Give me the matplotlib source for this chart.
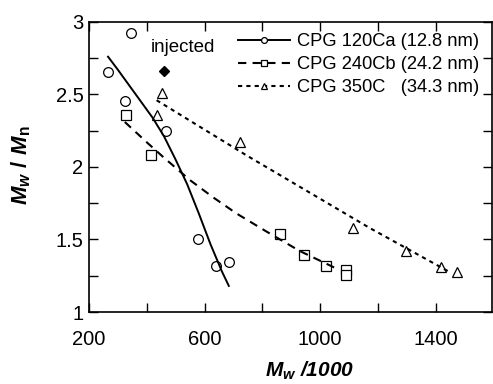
import matplotlib
matplotlib.use("Agg")
import matplotlib.pyplot as plt
from matplotlib.ticker import FixedLocator, MultipleLocator, FormatStrFormatter

plt.rcParams['font.family'] = ['Liberation Sans', 'DejaVu Sans']
plt.rcParams['mathtext.fontset'] = 'custom'
plt.rcParams['mathtext.it'] = 'Liberation Sans:italic:bold'
plt.rcParams['mathtext.rm'] = 'Liberation Sans:bold'
plt.rcParams['mathtext.bf'] = 'Liberation Sans:bold'

# measured points
mw_120 = [266, 345, 324, 466, 577, 639, 684]
pd_120 = [2.655, 2.92, 2.455, 2.25, 1.50, 1.32, 1.345]
mw_240 = [328, 414, 862, 943, 1021, 1090, 1089]
pd_240 = [2.36, 2.08, 1.54, 1.39, 1.32, 1.29, 1.255]
mw_350 = [453, 434, 724, 1113, 1299, 1420, 1474]
pd_350 = [2.51, 2.36, 2.175, 1.58, 1.42, 1.31, 1.275]

# fitted curves
fit_x_120 = [266, 300, 340, 380, 420, 460, 500, 540, 580, 620, 660, 684]
fit_y_120 = [2.76, 2.67, 2.56, 2.45, 2.34, 2.21, 2.05, 1.88, 1.68, 1.47, 1.28, 1.18]
fit_x_240 = [324, 400, 456, 549, 630, 710, 814, 930, 1056]
fit_y_240 = [2.31, 2.17, 2.07, 1.91, 1.79, 1.68, 1.555, 1.42, 1.30]
fit_x_350 = [434, 745, 1171, 1453]
fit_y_350 = [2.46, 2.08, 1.58, 1.27]

inj_x, inj_y = 459, 2.66

x_major = [200, 600, 1000, 1400]
x_minor = [400, 800, 1200]

labels = ["CPG 120Ca (12.8 nm)", "CPG 240Cb (24.2 nm)", "CPG 350C   (34.3 nm)"]

fig = plt.figure(figsize=(4.93, 3.84), dpi=100)
ax = fig.add_axes([0.1805, 0.1875, 0.8175, 0.7555])

mk = dict(mfc='white', mec='black', mew=0.9, ms=7)
ax.plot(mw_120, pd_120, 'o', ls='none', **mk)
ax.plot(mw_240, pd_240, 's', ls='none', **mk)
ax.plot(mw_350, pd_350, '^', ls='none', **mk)

ax.plot(fit_x_120, fit_y_120, color='black', lw=1.4)
ax.plot(fit_x_240, fit_y_240, color='black', lw=1.5, dashes=(4, 3))
ax.plot(fit_x_350, fit_y_350, color='black', lw=1.5, dashes=(2, 2))

ax.plot(inj_x, inj_y, 'D', color='black', ms=5.5)
ax.text(525, 2.82, "injected", ha='center', va='center', fontsize=13.5)

# legend handles
h1, = ax.plot([], [], color='black', lw=1.4, marker='o', **mk)
h2, = ax.plot([], [], color='black', lw=1.5, dashes=(4, 3), marker='s', **mk)
h3, = ax.plot([], [], color='black', lw=1.5, dashes=(2, 2), marker='^', **mk)
ax.legend([h1, h2, h3], labels, loc='upper left', bbox_to_anchor=(0.37, 0.96),
          frameon=False, fontsize=13.2, handlelength=2.85, handletextpad=0.35,
          labelspacing=0.32, borderpad=0, borderaxespad=0, markerscale=0.6)

ax.set_xlim(200, 1595)
ax.set_ylim(1, 3)
ax.xaxis.set_major_locator(FixedLocator(x_major))
ax.xaxis.set_minor_locator(FixedLocator(x_minor))
ax.yaxis.set_major_locator(MultipleLocator(0.5))
ax.yaxis.set_minor_locator(MultipleLocator(0.25))
ax.yaxis.set_major_formatter(FormatStrFormatter('%g'))

ax.tick_params(which='both', direction='in', top=True, right=True,
               length=6.5, width=1, labelsize=14.5)
ax.tick_params(axis='x', pad=13)
ax.tick_params(axis='y', pad=4)
for s in ax.spines.values():
    s.set_linewidth(1.2)

ax.set_xlabel(r'$M_w$ /1000', fontsize=15, fontweight='bold', fontstyle='italic')
ax.set_ylabel(r'$M_w\ /\ M_\mathrm{n}$', fontsize=16)
ax.xaxis.set_label_coords(0.548, -0.166)
ax.yaxis.set_label_coords(-0.139, 0.507)

fig.savefig("out.png", dpi=100)
